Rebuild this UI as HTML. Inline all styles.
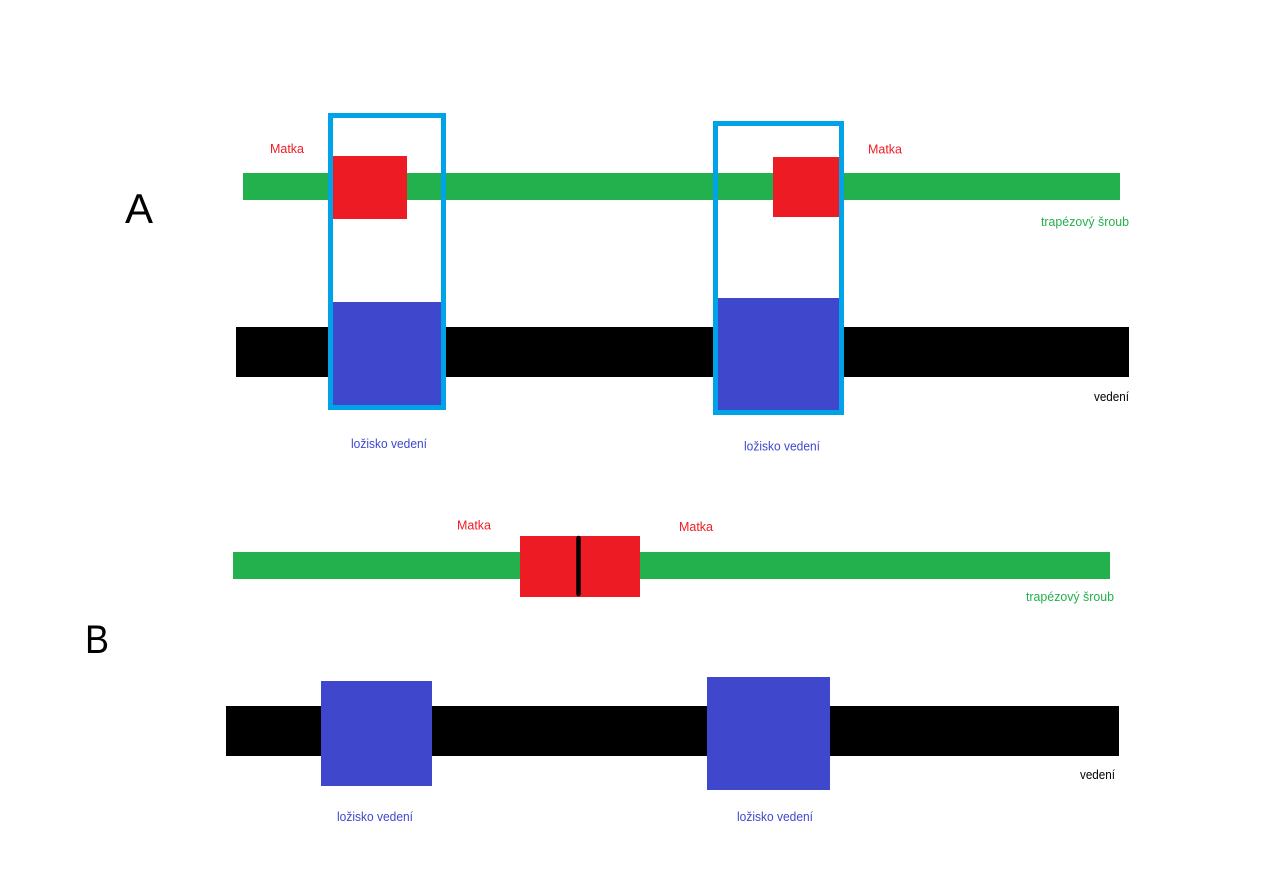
<!DOCTYPE html>
<html>
<head>
<meta charset="utf-8">
<style>
  html, body { margin: 0; padding: 0; background: #ffffff; }
  svg { display: block; }
  text { font-family: "Liberation Sans", sans-serif; }
</style>
</head>
<body>
<svg width="1274" height="880" viewBox="0 0 1274 880" xmlns="http://www.w3.org/2000/svg">
  <rect x="0" y="0" width="1274" height="880" fill="#ffffff"/>

  <!-- ===== A ===== -->
  <text x="125" y="223" font-size="42" fill="#000">A</text>

  <!-- screw -->
  <rect x="243" y="173" width="877" height="27" fill="#22b14c"/>
  <!-- guide rail -->
  <rect x="236" y="327" width="893" height="50" fill="#000000"/>

  <!-- left carriage -->
  <rect x="333" y="156" width="74" height="63" fill="#ed1c24"/>
  <rect x="333" y="302" width="108" height="103" fill="#3f48cc"/>
  <rect x="330.5" y="115.5" width="113" height="292" fill="none" stroke="#00a2e8" stroke-width="5"/>

  <!-- right carriage -->
  <rect x="773" y="157" width="66" height="60" fill="#ed1c24"/>
  <rect x="718" y="298" width="121" height="112" fill="#3f48cc"/>
  <rect x="715.5" y="123.5" width="126" height="289" fill="none" stroke="#00a2e8" stroke-width="5"/>

  <text x="270" y="153" font-size="13" fill="#ed1c24" textLength="34" lengthAdjust="spacingAndGlyphs">Matka</text>
  <text x="868" y="153.5" font-size="13" fill="#ed1c24" textLength="34" lengthAdjust="spacingAndGlyphs">Matka</text>
  <text x="1041" y="226" font-size="13" fill="#22b14c" textLength="88" lengthAdjust="spacingAndGlyphs">trapézový šroub</text>
  <text x="1094" y="401" font-size="13" fill="#000" textLength="35" lengthAdjust="spacingAndGlyphs">vedení</text>
  <text x="351" y="448" font-size="13" fill="#3f48cc" textLength="76" lengthAdjust="spacingAndGlyphs">ložisko vedení</text>
  <text x="744" y="450.5" font-size="13" fill="#3f48cc" textLength="76" lengthAdjust="spacingAndGlyphs">ložisko vedení</text>

  <!-- ===== B ===== -->
  <text x="85" y="653" font-size="40" fill="#000" textLength="24" lengthAdjust="spacingAndGlyphs">B</text>

  <rect x="233" y="552" width="877" height="27" fill="#22b14c"/>
  <rect x="520" y="536" width="120" height="61" fill="#ed1c24"/>
  <line x1="578.5" y1="538" x2="578.5" y2="594" stroke="#000" stroke-width="4.5" stroke-linecap="round"/>

  <rect x="226" y="706" width="893" height="50" fill="#000000"/>
  <rect x="321" y="681" width="111" height="105" fill="#3f48cc"/>
  <rect x="707" y="677" width="123" height="113" fill="#3f48cc"/>

  <text x="457" y="529.5" font-size="13" fill="#ed1c24" textLength="34" lengthAdjust="spacingAndGlyphs">Matka</text>
  <text x="679" y="531" font-size="13" fill="#ed1c24" textLength="34" lengthAdjust="spacingAndGlyphs">Matka</text>
  <text x="1026" y="601" font-size="13" fill="#22b14c" textLength="88" lengthAdjust="spacingAndGlyphs">trapézový šroub</text>
  <text x="1080" y="779" font-size="13" fill="#000" textLength="35" lengthAdjust="spacingAndGlyphs">vedení</text>
  <text x="337" y="821" font-size="13" fill="#3f48cc" textLength="76" lengthAdjust="spacingAndGlyphs">ložisko vedení</text>
  <text x="737" y="821" font-size="13" fill="#3f48cc" textLength="76" lengthAdjust="spacingAndGlyphs">ložisko vedení</text>
</svg>
</body>
</html>
